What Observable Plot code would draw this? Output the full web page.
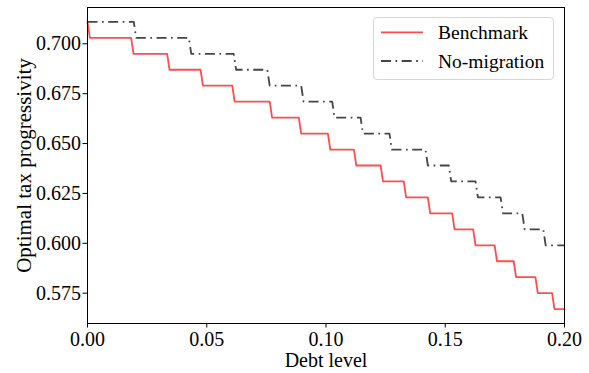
<!DOCTYPE html>
<html>
<head>
<meta charset="utf-8">
<script src="https://cdn.jsdelivr.net/npm/d3@7"></script>
<script src="https://cdn.jsdelivr.net/npm/@observablehq/plot@0.6"></script>
<style>
  body { margin: 0; background: #fff; }
  #chart { position: relative; width: 589px; height: 373px; font-family: "Liberation Serif", "Times New Roman", serif; }
  #legend { position: absolute; left: 373px; top: 17px; }
</style>
</head>
<body>
<div id="chart"></div>
<script>
// Optimal tax progressivity by debt level: vertices of each step path
const benchmarkDebt = [
  0, 0.001,
  0.0183, 0.0193,
  0.0334, 0.0344,
  0.0474, 0.0484,
  0.0607, 0.0617,
  0.0764, 0.0774,
  0.0886, 0.0896,
  0.1008, 0.1018,
  0.1117, 0.1127,
  0.1229, 0.1239,
  0.1326, 0.1336,
  0.1427, 0.1437,
  0.1529, 0.1539,
  0.1617, 0.1627,
  0.1707, 0.1717,
  0.1787, 0.1797,
  0.1878, 0.1888,
  0.1948, 0.1958,
  0.2
];
const benchmarkProgressivity = [
  0.711, 0.703,
  0.703, 0.695,
  0.695, 0.687,
  0.687, 0.679,
  0.679, 0.671,
  0.671, 0.663,
  0.663, 0.655,
  0.655, 0.647,
  0.647, 0.639,
  0.639, 0.631,
  0.631, 0.623,
  0.623, 0.615,
  0.615, 0.607,
  0.607, 0.599,
  0.599, 0.591,
  0.591, 0.583,
  0.583, 0.575,
  0.575, 0.567,
  0.567
];
const noMigrationDebt = [
  0,
  0.0194, 0.0204,
  0.0425, 0.0435,
  0.0613, 0.0623,
  0.0754, 0.0764,
  0.0896, 0.0906,
  0.1026, 0.1036,
  0.1145, 0.1155,
  0.1266, 0.1276,
  0.1417, 0.1427,
  0.1515, 0.1525,
  0.1627, 0.1637,
  0.1732, 0.1742,
  0.1823, 0.1833,
  0.1911, 0.1921,
  0.2
];
const noMigrationProgressivity = [
  0.711,
  0.711, 0.703,
  0.703, 0.695,
  0.695, 0.687,
  0.687, 0.679,
  0.679, 0.671,
  0.671, 0.663,
  0.663, 0.655,
  0.655, 0.647,
  0.647, 0.639,
  0.639, 0.631,
  0.631, 0.623,
  0.623, 0.615,
  0.615, 0.607,
  0.607, 0.599,
  0.599
];
const seriesNames = ["Benchmark", "No-migration"];
const xTicks = [0, 0.05, 0.10, 0.15, 0.20];
const yTicks = [0.575, 0.600, 0.625, 0.650, 0.675, 0.700];

const benchmark = benchmarkDebt.map((d, i) => ({debt: d, value: benchmarkProgressivity[i]}));
const noMigration = noMigrationDebt.map((d, i) => ({debt: d, value: noMigrationProgressivity[i]}));

const red = "#ff4d4d";
const grey = "#454545";
const dash = "10,4.5,1.7,4.5";
const font = "Liberation Serif";

const chart = Plot.plot({
  width: 589,
  height: 373,
  marginLeft: 87,
  marginRight: 25,
  marginTop: 7,
  marginBottom: 50,
  style: {fontFamily: font, fontSize: "20px", background: "white", color: "#000", overflow: "visible"},
  x: {domain: [0, 0.2]},
  y: {domain: [0.5598, 0.7182]},
  marks: [
    Plot.line(benchmark, {x: "debt", y: "value", stroke: red, strokeWidth: 1.8}),
    Plot.line(noMigration, {x: "debt", y: "value", stroke: grey, strokeWidth: 1.8,
      strokeDasharray: dash, strokeLinecap: "butt"}),
    Plot.frame({stroke: "#000", strokeWidth: 1}),
    Plot.axisX({ticks: xTicks, tickFormat: d3.format(".2f"), tickSize: 4.5, tickPadding: 4,
      fontSize: 20, label: null}),
    Plot.axisX({ticks: [], label: "Debt level", labelAnchor: "center", labelOffset: 43,
      labelArrow: "none", fontSize: 20}),
    Plot.axisY({ticks: yTicks, tickFormat: d3.format(".3f"), tickSize: 4.5, tickPadding: 2,
      fontSize: 20, label: null}),
    Plot.axisY({ticks: [], label: "Optimal tax progressivity", labelAnchor: "center", labelOffset: 71,
      labelArrow: "none", fontSize: 21})
  ]
});
document.getElementById("chart").appendChild(chart);

// Legend box in the upper right corner
const legend = d3.select("#chart").append("svg")
  .attr("id", "legend")
  .attr("width", 182)
  .attr("height", 63);
legend.append("rect")
  .attr("x", 0.5).attr("y", 0.5).attr("width", 180).attr("height", 62).attr("rx", 3.5)
  .attr("fill", "white").attr("fill-opacity", 0.8)
  .attr("stroke", "#d6d6d6").attr("stroke-width", 1);
const styles = [{stroke: red, dash: null, y: 15.3}, {stroke: grey, dash: dash, y: 44}];
seriesNames.forEach((name, i) => {
  const s = styles[i];
  legend.append("line")
    .attr("x1", 8).attr("x2", 50).attr("y1", s.y).attr("y2", s.y)
    .attr("stroke", s.stroke).attr("stroke-width", 1.8)
    .attr("stroke-dasharray", s.dash);
  legend.append("text")
    .attr("x", 65).attr("y", s.y + 6.8)
    .attr("font-family", font).attr("font-size", 19.5).attr("fill", "#000")
    .text(name);
});
</script>
</body>
</html>
